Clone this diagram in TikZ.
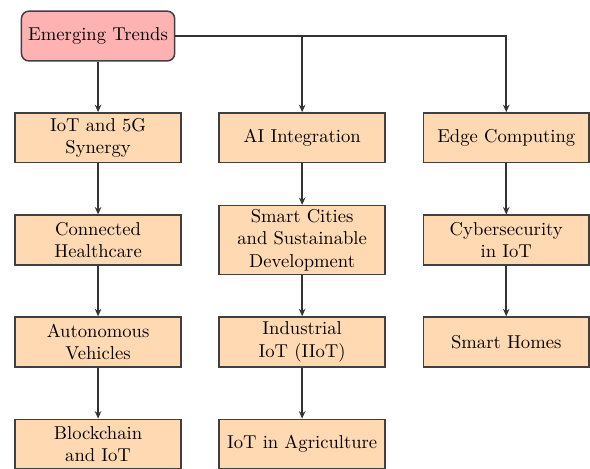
\documentclass[tikz,border=0pt]{standalone}
\usetikzlibrary{arrows.meta}

\begin{document}
\begin{tikzpicture}[
      trend/.style={rectangle, rounded corners=4pt, draw=black!75, thick, fill=red!30,
        minimum width=2.89cm, minimum height=0.94cm, align=center},
      topic/.style={rectangle, draw=black!75, thick, fill=orange!30,
        minimum width=3.13cm, minimum height=0.94cm, inner ysep=2pt, align=center},
      link/.style={-{Stealth[length=4pt,width=3.5pt]}, thick, draw=black!80}
    ]
    \useasboundingbox (0,0) rectangle (11.13,-8.83);

    % Raiz
    \node[trend] (trends) at (1.85,-0.68) {Emerging Trends};

    % Primeira coluna
    \node[topic] (iot5g)  at (1.85,-2.60) {IoT and 5G\\Synergy};
    \node[topic] (health) at (1.85,-4.53) {Connected\\Healthcare};
    \node[topic] (auto)   at (1.85,-6.45) {Autonomous\\Vehicles};
    \node[topic] (chain)  at (1.85,-8.38) {Blockchain\\and IoT};

    % Segunda coluna
    \node[topic] (ai)     at (5.70,-2.60) {AI Integration};
    \node[topic] (cities) at (5.70,-4.53) {Smart Cities\\and Sustainable\\Development};
    \node[topic] (iiot)   at (5.70,-6.45) {Industrial\\IoT (IIoT)};
    \node[topic] (agri)   at (5.70,-8.38) {IoT in Agriculture};

    % Terceira coluna
    \node[topic] (edge)   at (9.55,-2.60) {Edge Computing};
    \node[topic] (cyber)  at (9.55,-4.53) {Cybersecurity\\in IoT};
    \node[topic] (homes)  at (9.55,-6.45) {Smart Homes};

    \draw[link] (trends) -- (iot5g);
    \draw[link] (trends.east) -| (ai.north);
    \draw[link] (trends.east) -| (edge.north);

    \draw[link] (iot5g) -- (health);
    \draw[link] (health) -- (auto);
    \draw[link] (auto) -- (chain);
    \draw[link] (ai) -- (cities);
    \draw[link] (cities) -- (iiot);
    \draw[link] (iiot) -- (agri);
    \draw[link] (edge) -- (cyber);
    \draw[link] (cyber) -- (homes);
  \end{tikzpicture}
\end{document}
